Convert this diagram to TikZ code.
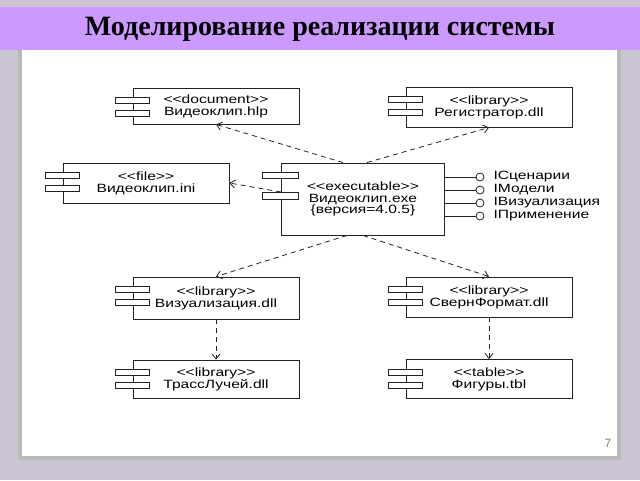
\documentclass[tikz,border=0pt]{standalone}
\usepackage{fontspec}
\setmainfont{Liberation Serif}
\setsansfont{Liberation Sans}
\newfontfamily\diafont[FakeStretch=1.3,Ligatures=TeXOff]{Liberation Sans}
\usetikzlibrary{arrows.meta}

\definecolor{slidebg}{HTML}{CBC5D3}
\definecolor{titlebar}{HTML}{CC99FF}
\definecolor{ink}{HTML}{222222}

\tikzset{
  comp/.style={draw=ink, line width=0.9pt, fill=white, minimum width=166pt,
    minimum height=40pt, inner sep=0pt, align=center,
    font=\diafont\fontsize{12}{11.8}\selectfont},
  tabbox/.style={draw=ink, line width=0.8pt, fill=white},
  dep/.style={draw=ink, line width=0.8pt, dash pattern=on 5pt off 4pt,
    -{Straight Barb[length=5pt,width=8pt]}},
  iface/.style={circle, draw=ink, line width=0.8pt, fill=white,
    minimum size=8pt, inner sep=0pt},
  ilabel/.style={anchor=west, inner sep=0pt,
    font=\diafont\fontsize{12}{12}\selectfont}
}

\begin{document}
\begin{tikzpicture}[x=1pt, y=-1pt]
  % slide
  \fill[slidebg] (0,0) rectangle (640,480);
  \useasboundingbox (0,0) rectangle (640,480);
  \fill[gray!55] (18,48) rectangle (621,460);
  \fill[white] (22,48) rectangle (617,456);
  \fill[titlebar] (0,7) rectangle (640,50);
  \node[font=\bfseries\fontsize{28}{30}\selectfont] (title) at (320,29)
    {Моделирование реализации системы};
  \node[font=\sffamily\fontsize{12}{12}\selectfont, text=gray] (pnum) at (608,443) {7};

  % components
  \node[comp, minimum height=36pt] (doc) at (216,106) {<<document>>\\Видеоклип.hlp};
  \node[comp] (reg) at (489,107) {<<library>>\\Регистратор.dll};
  \node[comp] (ini) at (146,183) {<<file>>\\Видеоклип.ini};
  \node[comp, minimum width=163pt, minimum height=72pt] (exec) at (363,199)
    {<<executable>>\\Видеоклип.exe\\\{версия=4.0.5\}};
  \node[comp, minimum height=42pt] (viz) at (216,298) {<<library>>\\Визуализация.dll};
  \node[comp] (svern) at (489,297) {<<library>>\\СвернФормат.dll};
  \node[comp, minimum height=38pt] (trass) at (216,379) {<<library>>\\ТрассЛучей.dll};
  \node[comp, minimum height=39pt] (fig) at (489,379) {<<table>>\\Фигуры.tbl};

  % dependencies
  \draw[dep] ([xshift=-20pt]exec.north) -- (doc.south);
  \draw[dep] ([xshift=4pt]exec.north) -- (reg.south);
  \draw[dep] ([yshift=7pt]exec.west) -- (ini.east);
  \draw[dep] ([xshift=-16pt]exec.south) -- (viz.north);
  \draw[dep] (exec.south) -- (svern.north);
  \draw[dep] (viz.south) -- (trass.north);
  \draw[dep] (svern.south) -- (fig.north);

  % component tabs
  \foreach \n in {doc,reg,ini,viz,svern,trass,fig} {
    \draw[tabbox] ([xshift=-17pt,yshift=-10pt]\n.north west)
      rectangle ([xshift=17pt,yshift=-16pt]\n.north west);
    \draw[tabbox] ([xshift=-17pt,yshift=-23pt]\n.north west)
      rectangle ([xshift=17pt,yshift=-29pt]\n.north west);
  }
  \draw[tabbox] ([xshift=-19pt,yshift=-10pt]exec.north west)
    rectangle ([xshift=17pt,yshift=-16pt]exec.north west);
  \draw[tabbox] ([xshift=-19pt,yshift=-30pt]exec.north west)
    rectangle ([xshift=17pt,yshift=-37pt]exec.north west);

  % interfaces
  \foreach \lbl [count=\i] in {IСценарии,IМодели,IВизуализация,IПрименение} {
    \node[iface] (i\i) at (480,164+13*\i) {};
    \node[ilabel] (l\i) at ([xshift=9pt]i\i.east) {\lbl};
    \draw[ink, line width=0.8pt] (exec.east |- i\i) -- (i\i);
  }
\end{tikzpicture}
\end{document}
